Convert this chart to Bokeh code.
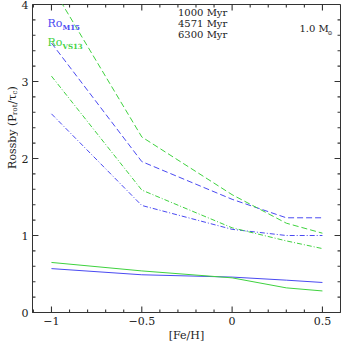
import math
from bokeh.plotting import figure
from bokeh.layouts import row
from bokeh.models import Range1d, FixedTicker, Label, Legend, LegendItem
from bokeh.embed import file_html
from bokeh.resources import INLINE

# ---- data ----
feh = [-1.0, -0.5, 0.0, 0.3, 0.5]
m15_1000 = [0.57, 0.49, 0.46, 0.42, 0.39]
vs13_1000 = [0.65, 0.54, 0.45, 0.32, 0.28]
m15_4571 = [2.58, 1.39, 1.08, 1.00, 1.00]
vs13_4571 = [3.07, 1.59, 1.10, 0.93, 0.83]
m15_6300 = [3.50, 1.96, 1.47, 1.23, 1.23]
vs13_6300 = [4.24, 2.28, 1.53, 1.16, 1.03]
ages = ["1000 Myr", "4571 Myr", "6300 Myr"]
x_major = [-1.0, -0.5, 0.0, 0.5]
x_labels = {-1: "\u22121", -0.5: "\u22120.5", 0: "0", 0.5: "0.5"}
x_minor = [-1.1, -0.9, -0.8, -0.7, -0.6, -0.4, -0.3, -0.2, -0.1,
           0.1, 0.2, 0.3, 0.4, 0.6]
y_major = [0, 1, 2, 3, 4]
y_minor = [0.2, 0.4, 0.6, 0.8, 1.2, 1.4, 1.6, 1.8, 2.2, 2.4, 2.6,
           2.8, 3.2, 3.4, 3.6, 3.8]
x_lo, x_hi = -1.105, 0.6
y_lo, y_hi = 0.0, 4.0

BLUE = "#4a4af2"
GREEN = "#3fd23f"
AX = "#333333"
TICK = "#333333"
TXT = "#222222"
FONT = "DejaVu Serif"
DASHES = ["solid", "5 2 1 2", "6 3"]

LW = 18                      # width of the y-label strip
W, H = 341 - LW, 344
BL, BR, BT, BB = 11, 1, 4, 30
FW, FH = W - BL - BR, H - BT - BB

p = figure(width=W, height=H, x_range=Range1d(x_lo, x_hi), y_range=Range1d(y_lo, y_hi),
           output_backend="svg", toolbar_location=None,
           min_border_left=BL, min_border_right=BR, min_border_top=BT, min_border_bottom=BB,
           x_axis_label="[Fe/H]")
p.grid.visible = False
p.outline_line_color = AX
p.border_fill_color = "white"

for ax, tk in ((p.xaxis[0], x_major), (p.yaxis[0], y_major)):
    ax.ticker = FixedTicker(ticks=tk, minor_ticks=[])
    ax.major_tick_in = 0
    ax.major_tick_out = 0
    ax.minor_tick_in = 0
    ax.minor_tick_out = 0
    ax.axis_line_color = AX
    ax.major_label_text_font = FONT
    ax.major_label_text_font_size = "11px"
    ax.major_label_text_color = TXT
    ax.major_label_standoff = 4
p.xaxis[0].major_label_overrides = x_labels
p.xaxis[0].axis_label_text_font = FONT
p.xaxis[0].axis_label_text_font_size = "11px"
p.xaxis[0].axis_label_text_font_style = "normal"
p.xaxis[0].axis_label_text_color = TXT
p.xaxis[0].axis_label_standoff = 1

# inward ticks on all four sides (lengths in pixels converted to data units)
sx = (x_hi - x_lo) / FW
sy = (y_hi - y_lo) / FH
for tl, n in ((x_major, 6), (x_minor, 3)):
    p.segment(x0=list(tl), y0=[y_lo] * len(tl), x1=list(tl), y1=[y_lo + n * sy] * len(tl),
              line_color=TICK, line_width=1.1)
    p.segment(x0=list(tl), y0=[y_hi] * len(tl), x1=list(tl), y1=[y_hi - n * sy] * len(tl),
              line_color=TICK, line_width=1.1)
for tl, n in ((y_major, 6), (y_minor, 3)):
    p.segment(x0=[x_lo] * len(tl), y0=list(tl), x1=[x_lo + n * sx] * len(tl), y1=list(tl),
              line_color=TICK, line_width=1.1)
    p.segment(x0=[x_hi] * len(tl), y0=list(tl), x1=[x_hi - n * sx] * len(tl), y1=list(tl),
              line_color=TICK, line_width=1.1)

series = [(m15_1000, BLUE, 0), (vs13_1000, GREEN, 0),
          (m15_4571, BLUE, 1), (vs13_4571, GREEN, 1),
          (m15_6300, BLUE, 2), (vs13_6300, GREEN, 2)]
for vals, col, k in series:
    p.line(feh, vals, line_color=col, line_width=1, line_dash=DASHES[k])

# legend with black samples
items = []
for k, lab_txt in enumerate(ages):
    r = p.line([], [], line_color="black", line_width=1, line_dash=DASHES[k])
    items.append(LegendItem(label=lab_txt, renderers=[r]))
leg = Legend(items=items, location=(118, FH - 38), background_fill_alpha=0,
             border_line_alpha=0, label_text_font=FONT, label_text_font_size="10px",
             label_text_color=TXT,
             glyph_width=24, glyph_height=11, label_height=11, spacing=0, padding=0,
             margin=0, label_standoff=4)
p.add_layout(leg)

def lab(fig, txt, x, y, size, color, **kw):
    fig.add_layout(Label(x=x, y=y, x_units="screen", y_units="screen", text=txt,
                         text_font=FONT, text_font_size=size, text_color=color, **kw))

lab(p, "Ro", 15, FH - 27, "11px", BLUE)
lab(p, "M15", 30, FH - 29, "7px", BLUE, text_font_style="bold")
lab(p, "Ro", 15, FH - 46, "11px", GREEN)
lab(p, "VS13", 30, FH - 48, "7px", GREEN, text_font_style="bold")
lab(p, "1.0 M", FW - 44, FH - 31, "10px", TXT)
lab(p, "\u2299", FW - 16, FH - 33, "6px", TXT)

# y label strip
yl = figure(width=LW, height=H, x_range=Range1d(0, 1), y_range=Range1d(0, 1),
            output_backend="svg", toolbar_location=None,
            x_axis_location=None, y_axis_location=None,
            min_border_left=0, min_border_right=0, min_border_top=0, min_border_bottom=0)
yl.grid.visible = False
yl.outline_line_color = None
pieces = [("Rossby (P", "11px", 0, 54.0), ("rot", "7px", 2.5, 10.6), ("/\u03c4", "11px", 0, 9.9),
          ("c", "7px", 2.5, 4.0), (")", "11px", 0, 4.3)]
total = sum(w for _, _, _, w in pieces)
yy = BB + FH / 2 - total / 2
for txt, size, dx, w in pieces:
    yl.add_layout(Label(x=12 + dx, y=yy, x_units="screen", y_units="screen", text=txt,
                        angle=math.pi / 2, text_font=FONT, text_font_size=size,
                        text_color=TXT, text_baseline="alphabetic", text_align="left"))
    yy += w

layout = row(yl, p)
open("out.html", "w").write(file_html(layout, INLINE))
